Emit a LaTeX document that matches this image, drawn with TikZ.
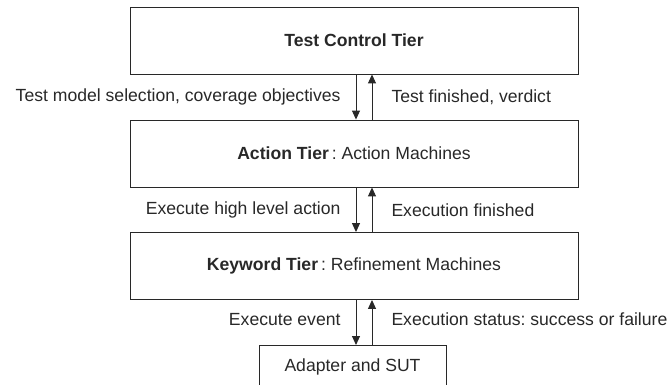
\documentclass[tikz,border=0pt]{standalone}
\usepackage{fontspec}
\setmainfont{Liberation Sans}
\usetikzlibrary{arrows.meta}
\usetikzlibrary{positioning,calc}
\definecolor{linegray}{RGB}{40,40,40}
\frenchspacing
\tikzset{
	every node/.style={font=\fontsize{17.6}{21}\selectfont,text=linegray}
}
\tikzset{
	tier/.style={draw=linegray,line width=0.9pt,minimum width=448pt,minimum height=67pt,inner sep=0pt},
	flow/.style={-{Triangle[length=9pt,width=8pt]},line width=1pt,draw=linegray},
	msg/.style={inner sep=0pt}
}

\begin{document}
\begin{tikzpicture}[x=1pt,y=-1pt]
	\useasboundingbox (0,0) rectangle (670,385);
	\clip (0,0) rectangle (670,385);
	% the three tiers
	\node[tier] (control) at (354,40.5) {\textbf{Test Control Tier}};
	\node[tier] (action) at (354,153.5) {\textbf{Action Tier}\,: Action Machines};
	\node[tier] (keyword) at (354,266) {\textbf{Keyword Tier}\,: Refinement Machines};
	\node[tier,minimum width=187pt,minimum height=42pt,anchor=north] (sut) at (352.5,345) {Adapter and SUT};
	% downward requests
	\draw[flow] ([xshift=2pt]control.south) -- ([xshift=2pt]action.north)
		node[msg,midway,left=15pt] {Test model selection, coverage objectives};
	\draw[flow] ([xshift=2pt]action.south) -- ([xshift=2pt]keyword.north)
		node[msg,midway,left=15pt] {Execute high level action};
	\draw[flow] ([xshift=2pt]keyword.south) -- ([xshift=2pt]keyword.south |- sut.north)
		node[msg,midway,left=15pt,yshift=3pt] {Execute event};
	% upward replies
	\draw[flow] ([xshift=18pt]action.north) -- ([xshift=18pt]control.south)
		node[msg,midway,right=19pt] {Test finished, verdict};
	\draw[flow] ([xshift=18pt]keyword.north) -- ([xshift=18pt]action.south)
		node[msg,midway,right=19pt] {Execution finished};
	\draw[flow] ([xshift=18pt]keyword.south |- sut.north) -- ([xshift=18pt]keyword.south)
		node[msg,midway,right=19pt,yshift=3pt] {Execution status: success or failure};
\end{tikzpicture}
\end{document}
